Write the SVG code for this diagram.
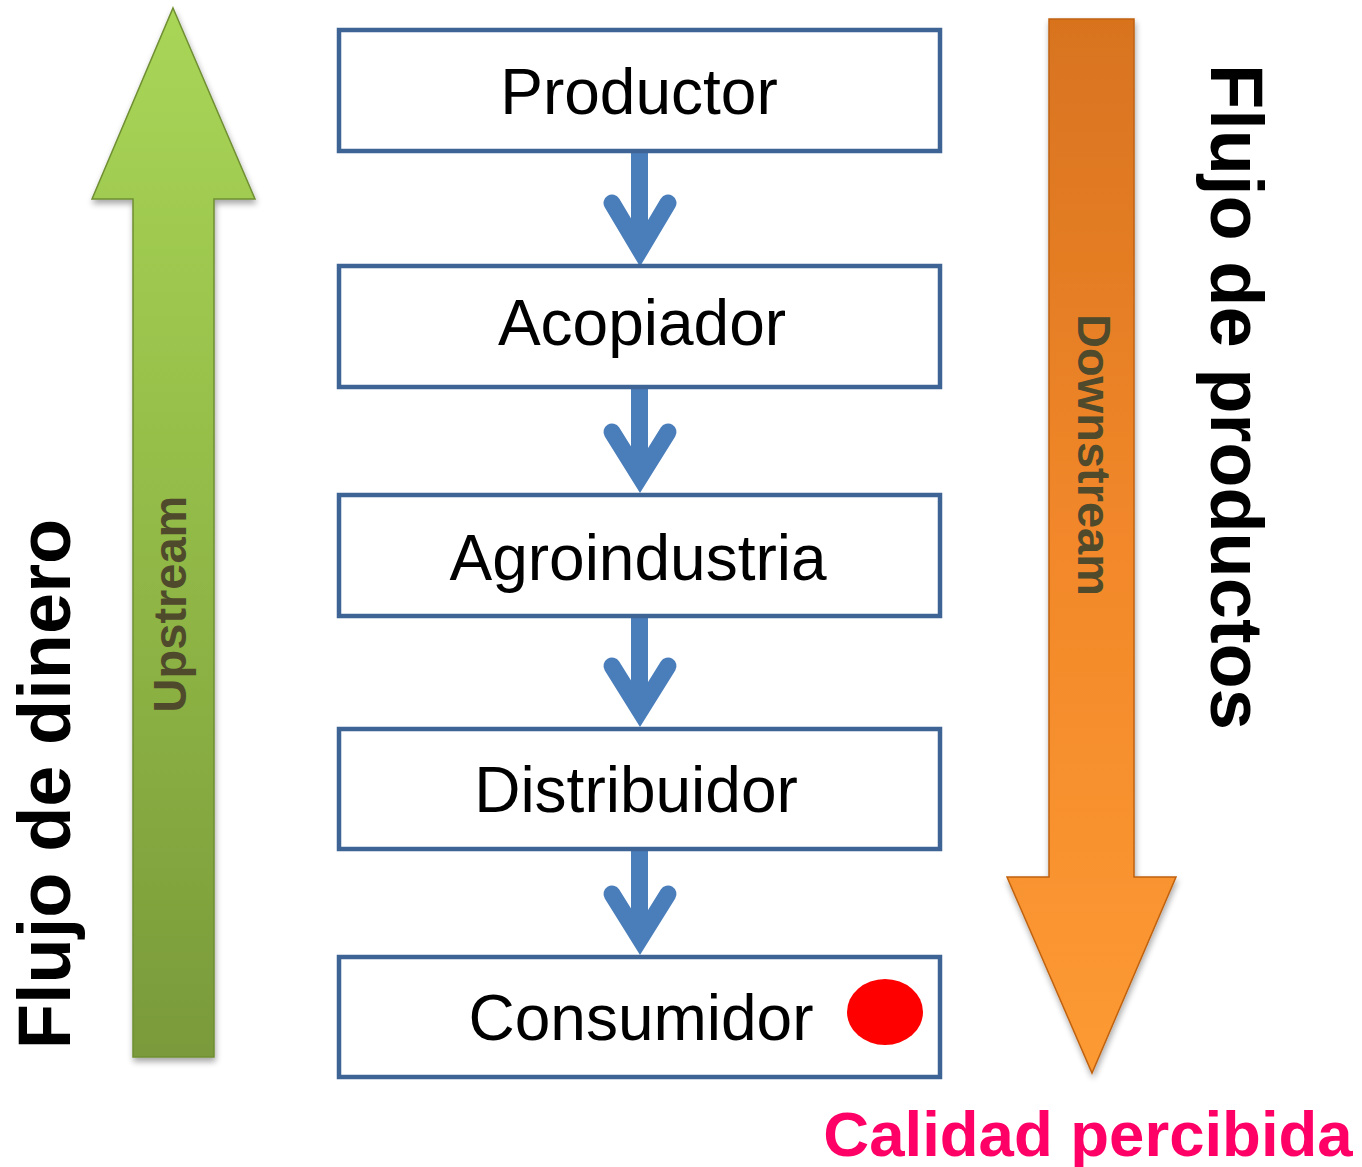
<svg xmlns="http://www.w3.org/2000/svg" width="1362" height="1167" viewBox="0 0 1362 1167">
<defs>
<linearGradient id="gGreen" x1="0" y1="0" x2="0" y2="1">
<stop offset="0" stop-color="#a9d657"/>
<stop offset="0.5" stop-color="#92ba47"/>
<stop offset="1" stop-color="#7a9a3a"/>
</linearGradient>
<linearGradient id="gOrange" x1="0" y1="0" x2="0" y2="1">
<stop offset="0" stop-color="#d8731f"/>
<stop offset="0.5" stop-color="#f2882a"/>
<stop offset="1" stop-color="#fd9a33"/>
</linearGradient>
<filter id="shadow" x="-20%" y="-5%" width="140%" height="110%">
<feGaussianBlur in="SourceAlpha" stdDeviation="3"/>
<feOffset dx="1" dy="4" result="b"/>
<feComponentTransfer><feFuncA type="linear" slope="0.35"/></feComponentTransfer>
<feMerge><feMergeNode/><feMergeNode in="SourceGraphic"/></feMerge>
</filter>
</defs>
<style>
.box{fill:#ffffff;stroke:#3e6496;stroke-width:4.5}
.lbl{font-family:"Liberation Sans",Arial,sans-serif;font-size:64px;fill:#000;text-anchor:middle}
.big{font-family:"Liberation Sans",Arial,sans-serif;font-size:74px;font-weight:bold;fill:#000;text-anchor:middle}
.dir{font-family:"Liberation Sans",Arial,sans-serif;font-size:47px;font-weight:bold;text-anchor:middle}
.shaft{fill:#4a7ebb}
.chev{fill:none;stroke:#4a7ebb;stroke-width:17;stroke-linecap:round;stroke-linejoin:miter;stroke-miterlimit:10}
</style>
<g id="upstream-arrow">
<polygon points="173,8 255,199 214,199 214,1057 133,1057 133,199 92,199" fill="url(#gGreen)" stroke="#6f8f32" stroke-width="1.5" filter="url(#shadow)"/>
<text class="dir" fill="#4f4a2c" transform="translate(186,604) rotate(-90)">Upstream</text>
</g>
<g id="downstream-arrow">
<polygon points="1049,19 1134,19 1134,877 1176,877 1092,1073 1007,877 1049,877" fill="url(#gOrange)" stroke="#c0620f" stroke-width="1.5" filter="url(#shadow)"/>
<text class="dir" fill="#4f4a2c" transform="translate(1078,455) rotate(90)">Downstream</text>
</g>
<g id="connectors">
<rect class="shaft" x="631" y="151" width="17" height="100"/>
<polyline class="chev" points="612,203 640,250 668,203"/>
<rect class="shaft" x="631" y="387" width="17" height="90"/>
<polyline class="chev" points="612,432 640,477 668,432"/>
<rect class="shaft" x="631" y="616" width="17" height="95"/>
<polyline class="chev" points="612,666 640,711 668,666"/>
<rect class="shaft" x="631" y="849" width="17" height="90"/>
<polyline class="chev" points="612,894 640,939 668,894"/>
</g>
<g id="productor">
<rect class="box" x="339" y="30" width="601" height="121"/>
<text class="lbl" x="639" y="114">Productor</text>
</g>
<g id="acopiador">
<rect class="box" x="339" y="266" width="601" height="121"/>
<text class="lbl" x="642" y="345">Acopiador</text>
</g>
<g id="agroindustria">
<rect class="box" x="339" y="495" width="601" height="121"/>
<text class="lbl" x="638" y="580">Agroindustria</text>
</g>
<g id="distribuidor">
<rect class="box" x="339" y="729" width="601" height="120"/>
<text class="lbl" x="636" y="812">Distribuidor</text>
</g>
<g id="consumidor">
<rect class="box" x="339" y="957" width="601" height="120"/>
<text class="lbl" x="641" y="1040">Consumidor</text>
<ellipse cx="885" cy="1012" rx="38" ry="33" fill="#ff0000"/>
</g>
<g id="flujo-dinero">
<text class="big" transform="translate(70,784) rotate(-90)">Flujo de dinero</text>
</g>
<g id="flujo-productos">
<text class="big" transform="translate(1211,397) rotate(90)">Flujo de productos</text>
</g>
<g id="calidad">
<text x="1088" y="1156" font-family="Liberation Sans,Arial,sans-serif" font-size="63.5" font-weight="bold" fill="#ff0066" text-anchor="middle">Calidad percibida</text>
</g>
</svg>
